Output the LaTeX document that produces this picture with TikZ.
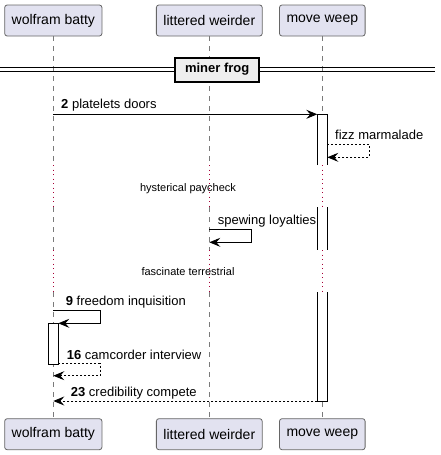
\documentclass[tikz,border=0pt]{standalone}
\usepackage{fontspec}
\setmainfont{Liberation Sans}
\usetikzlibrary{arrows.meta,positioning}

\definecolor{partfill}{HTML}{E2E2F0}
\definecolor{partline}{HTML}{666666}
\definecolor{lifegray}{HTML}{7A7A7A}
\definecolor{delayred}{HTML}{A80036}
\definecolor{divfill}{HTML}{EEEEEE}

\tikzset{
	part/.style = {draw = partline, fill = partfill, line width = 0.8pt, rounded corners = 2.5pt, minimum height = 31pt, inner xsep = 7pt, font = \fontsize{14}{16}\selectfont},
	life/.style = {draw = lifegray, line width = 0.8pt, dash pattern = on 5pt off 5pt},
	delay/.style = {draw = delayred, line width = 0.9pt, dash pattern = on 0.9pt off 3.6pt},
	msg/.style = {line width = 0.9pt, -{Stealth[length = 11pt, width = 9pt, inset = 4pt]}},
	ret/.style = {msg, dash pattern = on 2pt off 2pt},
	lbl/.style = {font = \fontsize{13}{15}\selectfont, inner sep = 0pt, anchor = base west},
	delaytxt/.style = {font = \fontsize{11}{13}\selectfont, inner sep = 0pt, anchor = base},
	actbar/.style = {fill = white, minimum width = 10pt, inner sep = 0pt, outer sep = 0pt, anchor = north},
	barline/.style = {line width = 0.9pt},
	divline/.style = {line width = 1pt},
	divbox/.style = {draw, fill = divfill, line width = 1.8pt, minimum width = 84pt, minimum height = 24pt, inner sep = 0pt, font = \bfseries\fontsize{13}{15}\selectfont},
}

\begin{document}
\begin{tikzpicture}[x = 1pt, y = -1pt]
	\useasboundingbox (0,0) rectangle (440,455);

	% participants
	\node[part] (wbT) at (53.3,20.5) {wolfram batty};
	\node[part] (lwT) at (209.3,20.5) {littered weirder};
	\node[part] (mwT) at (322.3,20.5) {move weep};
	\node[part] (wbB) at (53.3,434.2) {wolfram batty};
	\node[part] (lwB) at (209.3,434.2) {littered weirder};
	\node[part] (mwB) at (322.3,434.2) {move weep};

	% lifelines with the two delays
	\foreach \p in {wb, lw, mw} {
		\coordinate (\p D1) at (\p T |- 0,165);
		\coordinate (\p E1) at (\p T |- 0,207);
		\coordinate (\p D2) at (\p T |- 0,250);
		\coordinate (\p E2) at (\p T |- 0,292);
		\draw[life] (\p T) -- (\p D1) (\p E1) -- (\p D2) (\p E2) -- (\p B);
		\draw[delay] (\p D1) -- (\p E1) (\p D2) -- (\p E2);
	}

	% divider
	\coordinate (divLa) at (0,67.9);
	\coordinate (divRa) at (435,67.9);
	\coordinate (divLb) at (0,71.3);
	\coordinate (divRb) at (435,71.3);
	\draw[divline] (divLa) -- (divRa) (divLb) -- (divRb);
	\node[divbox] (frog) at (217.2,69.6) {miner frog};

	% activation bars
	\node[actbar, minimum height = 50.7pt] (mwA1) at (mwT |- 0,114.3) {};
	\node[actbar, minimum height = 43pt] (mwA2) at (mwT |- 0,207) {};
	\node[actbar, minimum height = 109pt] (mwA3) at (mwT |- 0,292) {};
	\node[actbar, minimum height = 41pt] (wbA) at (wbT |- 0,323.3) {};
	\draw[barline] (mwA1.south west) -- (mwA1.north west) -- (mwA1.north east) -- (mwA1.south east);
	\draw[barline] (mwA2.north west) -- (mwA2.south west) (mwA2.north east) -- (mwA2.south east);
	\draw[barline] (mwA3.north west) -- (mwA3.south west) -- (mwA3.south east) -- (mwA3.north east);
	\draw[barline] (wbA.north west) rectangle (wbA.south east);

	% messages
	\coordinate (m2) at (wbT |- mwA1.north);
	\draw[msg] (m2) -- (mwA1.north west);
	\node[lbl] (l2) at ([xshift = 7.7pt, yshift = 5.8pt]m2) {\textbf{2} platelets doors};

	\coordinate (fzA) at (mwA1.east |- 0,144.3);
	\coordinate (fzB) at (mwA1.east |- 0,157.3);
	\draw[ret] (fzA) -| ++(42,13) -- (fzB);
	\node[lbl] (lfz) at ([xshift = 7.7pt, yshift = 5pt]fzA) {fizz marmalade};

	\node[delaytxt] (dl1) at (188,191) {hysterical paycheck};

	\coordinate (swA) at (lwT |- 0,229.3);
	\coordinate (swB) at (lwT |- 0,242.3);
	\draw[msg] (swA) -| ++(42,13) -- (swB);
	\node[lbl] (lsw) at ([xshift = 8.4pt, yshift = 4.5pt]swA) {spewing loyalties};

	\node[delaytxt] (dl2) at (188,275.7) {fascinate terrestrial};

	\coordinate (m9) at (wbT |- 0,310);
	\draw[msg] (m9) -| ++(46.7,13.3) -- (wbA.north east);
	\node[lbl] (l9) at ([xshift = 12.4pt, yshift = 5pt]m9) {\textbf{9} freedom inquisition};

	\coordinate (m16) at (wbA.east |- 0,363.3);
	\coordinate (m16B) at (wbT |- 0,375.7);
	\draw[ret] (m16) -| ++(41.7,12.4) -- (m16B);
	\node[lbl] (l16) at ([xshift = 8.4pt, yshift = 4.3pt]m16) {\textbf{16} camcorder interview};

	\coordinate (m23) at (wbT |- mwA3.south);
	\draw[ret] (mwA3.south west) -- (m23);
	\node[lbl] (l23) at ([xshift = 17.4pt, yshift = 4.5pt]m23) {\textbf{23} credibility compete};
\end{tikzpicture}
\end{document}
